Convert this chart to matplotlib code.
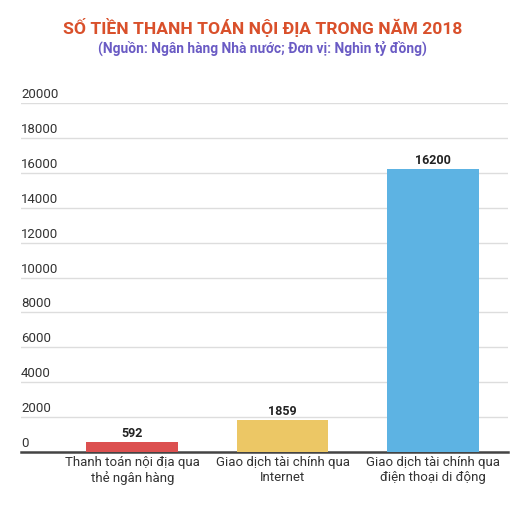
import matplotlib
matplotlib.use("Agg")
import matplotlib.pyplot as plt

categories = ["Thanh toán nội địa qua\nthẻ ngân hàng",
              "Giao dịch tài chính qua\nInternet",
              "Giao dịch tài chính qua\nđiện thoại di động"]
values = [592, 1859, 16200]
bar_colors = ["#dc5050", "#ecc765", "#5db3e3"]
y_ticks = list(range(0, 20001, 2000))

plt.rcParams['font.family'] = ['Roboto', 'DejaVu Sans']

fig = plt.figure(figsize=(5.25, 5.16), dpi=100)
ax = fig.add_axes([0.04, 0.124, 0.9276, 0.676])

x = list(range(len(categories)))
ax.bar(x, values, width=0.61, color=bar_colors, zorder=3)
for xi, v in zip(x, values):
    ax.text(xi, v + 120, str(v), ha="center", va="bottom",
            fontsize=9, fontweight="bold", color="#222222")

ax.set_xlim(-0.74, 2.5)
ax.set_ylim(0, 20000)

# gridlines with labels sitting above them on the left
ax.set_yticks(y_ticks)
ax.set_yticklabels([])
ax.tick_params(axis="y", length=0)
for t in y_ticks:
    if t > 0:
        ax.axhline(t, color="#dddddd", linewidth=1, zorder=1)
    ax.annotate(str(t), xy=(0, t), xycoords=("axes fraction", "data"),
                xytext=(0, 1.5), textcoords="offset points",
                ha="left", va="bottom", fontsize=9.5, color="#333333")

ax.set_xticks(x)
ax.set_xticklabels(categories, fontsize=9.5, color="#333333", linespacing=1.15)
ax.tick_params(axis="x", length=0, pad=3)

for side in ["top", "right", "left"]:
    ax.spines[side].set_visible(False)
ax.spines["bottom"].set_color("#444444")
ax.spines["bottom"].set_linewidth(1.8)

fig.text(0.5, 0.947, "SỐ TIỀN THANH TOÁN NỘI ĐỊA TRONG NĂM 2018",
         ha="center", va="center", fontsize=12.6, fontweight="bold",
         color="#d9502b")
fig.text(0.5, 0.906, "(Nguồn: Ngân hàng Nhà nước; Đơn vị: Nghìn tỷ đồng)",
         ha="center", va="center", fontsize=9.9, fontweight="bold",
         color="#6a5bc4")

fig.savefig("out.png", dpi=100)
